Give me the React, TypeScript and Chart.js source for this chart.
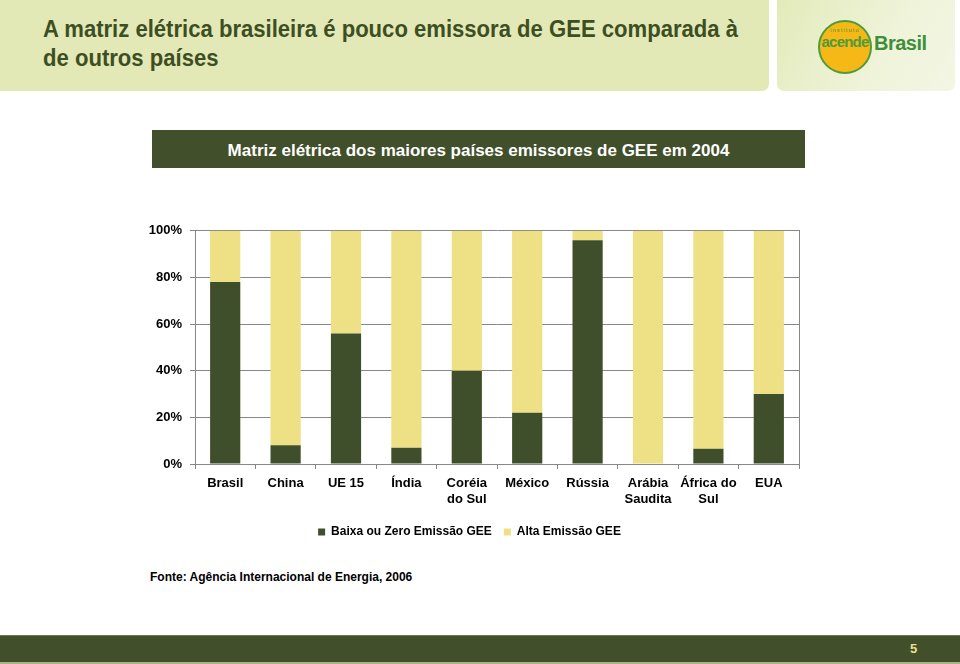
import React, { useEffect, useRef } from "react";
import { Chart, registerables } from "chart.js";

Chart.register(...registerables);

const categories: (string | string[])[] = [
  "Brasil",
  "China",
  "UE 15",
  "Índia",
  ["Coréia", "do Sul"],
  "México",
  "Rússia",
  ["Arábia", "Saudita"],
  ["África do", "Sul"],
  "EUA",
];
const baixaEmissao = [78, 8, 56, 7, 40, 22, 96, 0, 6.5, 30];
const altaEmissao = [22, 92, 44, 93, 60, 78, 4, 100, 93.5, 70];
const yTicks = [0, 20, 40, 60, 80, 100];

const DARK = "#404f2b";
const LIGHT = "#eee085";

function ChartBox() {
  const ref = useRef<HTMLCanvasElement | null>(null);
  useEffect(() => {
    if (!ref.current) return;
    const font = { family: "'Liberation Sans', Arial, sans-serif", size: 13, weight: "bold" as const };
    const chart = new Chart(ref.current, {
      type: "bar",
      data: {
        labels: categories,
        datasets: [
          {
            label: "Baixa ou Zero Emissão GEE",
            data: baixaEmissao,
            backgroundColor: DARK,
            borderWidth: 0,
            categoryPercentage: 1,
            barPercentage: 0.5,
          },
          {
            label: "Alta Emissão GEE",
            data: altaEmissao,
            backgroundColor: LIGHT,
            borderWidth: 0,
            categoryPercentage: 1,
            barPercentage: 0.5,
          },
        ],
      },
      options: {
        animation: false,
        responsive: false,
        layout: { padding: { top: 15, right: 11, left: 0, bottom: 0 } },
        plugins: {
          tooltip: { enabled: false },
          legend: {
            position: "bottom",
            labels: {
              boxWidth: 7,
              boxHeight: 7,
              padding: 12,
              color: "#000",
              font: { family: "'Liberation Sans', Arial, sans-serif", size: 12, weight: "bold" },
            },
          },
        },
        scales: {
          x: {
            stacked: true,
            grid: {
              offset: true,
              drawOnChartArea: false,
              drawTicks: true,
              tickLength: 5,
              color: "#888",
            },
            border: { display: true, color: "#888", width: 1 },
            ticks: { color: "#000", font, padding: 7, maxRotation: 0, autoSkip: false },
            afterFit: (s: any) => {
              s.height = 50;
            },
          },
          y: {
            stacked: true,
            min: 0,
            max: 100,
            afterBuildTicks: (s: any) => {
              s.ticks = yTicks.map((v) => ({ value: v }));
            },
            grid: { color: "#888", tickLength: 5, lineWidth: 1 },
            border: { display: true, color: "#888" },
            ticks: {
              color: "#000",
              font,
              padding: 8,
              callback: (v: any) => v + "%",
            },
            afterFit: (s: any) => {
              s.width = 55;
            },
          },
          y1: {
            position: "right",
            min: 0,
            max: 100,
            grid: { drawOnChartArea: false, drawTicks: false },
            border: { display: true, color: "#888" },
            ticks: { display: false },
            afterFit: (s: any) => {
              s.width = 0;
            },
          },
        },
      },
    });
    return () => chart.destroy();
  }, []);
  return <canvas ref={ref} width={670} height={333} style={{ width: 670, height: 333, display: "block" }} />;
}

export default function App() {
  const sans = "'Liberation Sans', Arial, sans-serif";
  return (
    <div style={{ position: "absolute", left: 0, top: 0, width: 960, height: 664, background: "#fff", overflow: "hidden", fontFamily: sans }}>
      {/* header band */}
      <div
        style={{
          position: "absolute",
          left: 0,
          top: 0,
          width: 769,
          height: 91,
          background: "#e2e9b6",
          borderBottomRightRadius: 7,
        }}
      />
      <div
        style={{
          position: "absolute",
          left: 43,
          top: 15,
          width: 800,
          color: "#3d4f22",
          fontSize: 23,
          fontWeight: "bold",
          lineHeight: "29px",
          whiteSpace: "nowrap",
          transform: "scaleX(0.96)",
          transformOrigin: "0 0",
        }}
      >
        A matriz elétrica brasileira é pouco emissora de GEE comparada à
        <br />
        de outros países
      </div>
      {/* logo panel */}
      <div
        style={{
          position: "absolute",
          left: 777,
          top: 0,
          width: 178,
          height: 91,
          background: "linear-gradient(120deg, #e3eab9 0%, #eef3d8 55%, #f3f6e4 100%)",
          borderBottomLeftRadius: 7,
          borderBottomRightRadius: 7,
          overflow: "hidden",
        }}
      >
        <div
          style={{
            position: "absolute",
            left: 41,
            top: 20,
            width: 50,
            height: 50,
            borderRadius: "50%",
            background: "#f6b817",
            border: "2px solid #4e9a3c",
          }}
        />
        <div style={{ position: "absolute", left: 43, top: 27, width: 50, textAlign: "center", fontSize: 6, color: "#4e9a3c", letterSpacing: 1 }}>
          instituto
        </div>
        <div style={{ position: "absolute", left: 41, top: 33, width: 54, textAlign: "center", fontSize: 15, color: "#4e9a3c", fontWeight: "bold", letterSpacing: -0.8 }}>
          acende
        </div>
        <div style={{ position: "absolute", left: 97, top: 32, fontSize: 20, color: "#3f8f3a", fontWeight: "bold", letterSpacing: -0.5 }}>
          Brasil
        </div>
      </div>
      {/* subtitle box */}
      <div
        style={{
          position: "absolute",
          left: 152,
          top: 130,
          width: 653,
          height: 38,
          background: "#414f2b",
          color: "#fff",
          fontSize: 17,
          fontWeight: "bold",
          lineHeight: "42px",
          textAlign: "center",
        }}
      >
        Matriz elétrica dos maiores países emissores de GEE em 2004
      </div>
      {/* chart */}
      <div style={{ position: "absolute", left: 140, top: 215 }}>
        <ChartBox />
      </div>
      {/* source */}
      <div style={{ position: "absolute", left: 150, top: 570, fontSize: 12, fontWeight: "bold", color: "#000" }}>
        Fonte: Agência Internacional de Energia, 2006
      </div>
      {/* footer */}
      <div
        style={{
          position: "absolute",
          left: 0,
          top: 635,
          width: 960,
          height: 26,
          background: "#414f2b",
          borderTop: "1px solid #6b7850",
          borderBottom: "2px solid #a9b38a",
        }}
      />
      <div style={{ position: "absolute", left: 910, top: 641, fontSize: 13, fontWeight: "bold", color: "#e8e08e" }}>5</div>
    </div>
  );
}
